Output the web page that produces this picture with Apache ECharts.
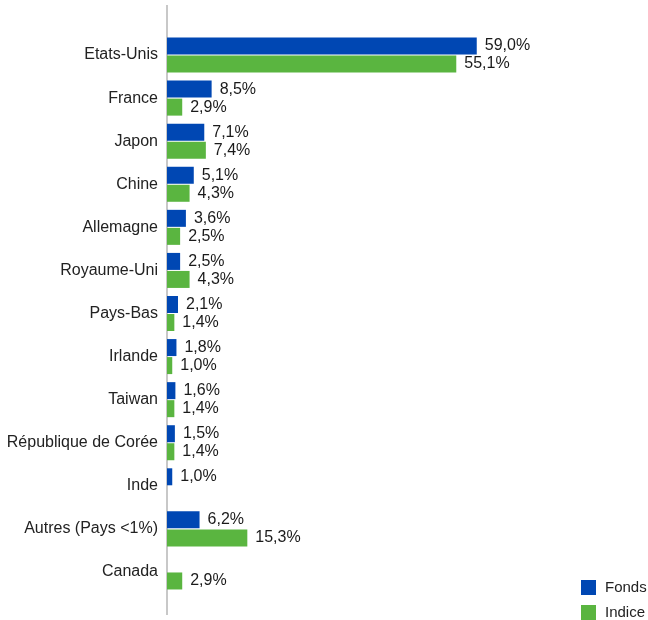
<!DOCTYPE html>
<html>
<head>
<meta charset="utf-8">
<script src="https://cdn.jsdelivr.net/npm/echarts@6/dist/echarts.min.js"></script>
<style>html,body{margin:0;padding:0;background:#fff}#c{width:648px;height:620px}</style>
</head>
<body>
<div id="c"></div>
<script>
const categories = ['Etats-Unis','France','Japon','Chine','Allemagne','Royaume-Uni','Pays-Bas','Irlande','Taiwan','République de Corée','Inde','Autres (Pays <1%)','Canada'];
const fonds = [59.0, 8.5, 7.1, 5.1, 3.6, 2.5, 2.1, 1.8, 1.6, 1.5, 1.0, 6.2, null];
const indice = [55.1, 2.9, 7.4, 4.3, 2.5, 4.3, 1.4, 1.0, 1.4, 1.4, null, 15.3, 2.9];
const seriesNames = ['Fonds', 'Indice'];

const chart = echarts.init(document.getElementById('c'), null, {renderer: 'canvas'});
const fmt = p => p.value == null ? '' : p.value.toFixed(1).replace('.', ',') + '%';
const font = 'Liberation Sans, Arial, sans-serif';
const legendBase = {
  orient: 'vertical', left: 581, padding: 0, itemWidth: 15, itemHeight: 15,
  icon: 'rect', textStyle: {fontSize: 15, color: '#222', fontFamily: font, padding: [0, 0, 0, 4]}
};
chart.setOption({
  animation: false,
  textStyle: {fontFamily: font},
  grid: {left: 167, top: 33.5, width: 420, height: 560},
  legend: [
    Object.assign({}, legendBase, {top: 580, data: [seriesNames[0]]}),
    Object.assign({}, legendBase, {top: 605, data: [seriesNames[1]]})
  ],
  xAxis: {type: 'value', min: 0, max: 80, show: false},
  yAxis: {
    type: 'category', data: categories, inverse: true,
    axisLine: {show: false}, axisTick: {show: false},
    axisLabel: {fontSize: 16, color: '#222', margin: 9, fontFamily: font}
  },
  graphic: [{
    type: 'line', shape: {x1: 167, y1: 5, x2: 167, y2: 615},
    style: {stroke: '#c8c8c8', lineWidth: 2}
  }],
  series: [
    {name: seriesNames[0], type: 'bar', data: fonds, barWidth: 17, barGap: '6%',
     itemStyle: {color: '#0047b3'},
     label: {show: true, position: 'right', distance: 8, formatter: fmt, fontSize: 16, color: '#1a1a1a', fontFamily: font}},
    {name: seriesNames[1], type: 'bar', data: indice, barWidth: 17,
     itemStyle: {color: '#5ab540'},
     label: {show: true, position: 'right', distance: 8, formatter: fmt, fontSize: 16, color: '#1a1a1a', fontFamily: font}}
  ]
});
</script>
</body>
</html>
